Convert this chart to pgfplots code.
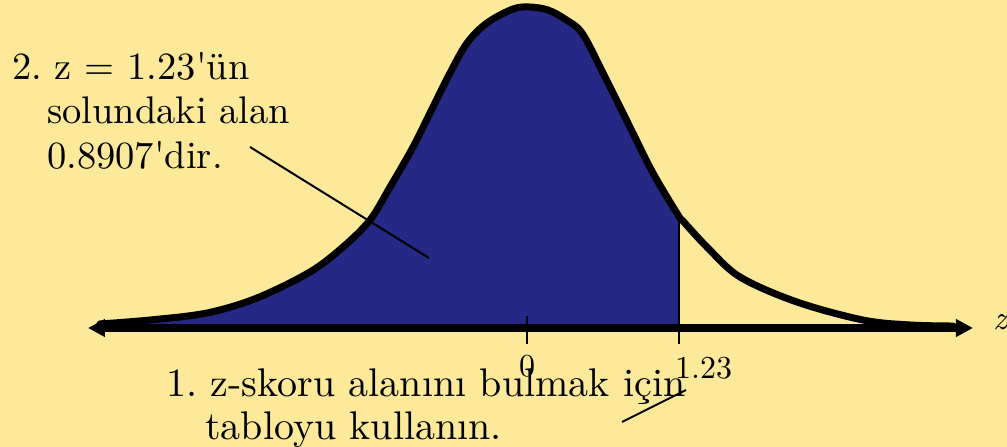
\documentclass[border=0pt]{standalone}
\usepackage{fontspec}
\setmainfont{lmroman10-regular}[Extension=.otf, ItalicFont=lmroman10-italic, BoldFont=lmroman10-bold]
\usepackage{pgfplots}
\usepackage{pgfplotstable}
\pgfplotsset{compat=1.18}
\usetikzlibrary{arrows.meta}

\definecolor{slidebg}{RGB}{252,233,154}
\definecolor{areablue}{RGB}{37,41,133}

% density curve, z against height
\pgfplotstableread{
z      f
-3.455 0.0051
-3.050 0.0101
-2.589 0.0190
-2.184 0.0380
-1.756 0.0709
-1.489 0.1025
-1.270 0.1367
-1.108 0.1785
-0.922 0.2291
-0.761 0.2797
-0.623 0.3228
-0.485 0.3608
-0.324 0.3861
-0.113 0.4038
0.024  0.4063
0.170  0.4025
0.307  0.3911
0.445  0.3734
0.615  0.3228
0.833  0.2544
1.019  0.1962
1.230  0.1410
1.262  0.1354
1.456  0.1025
1.723  0.0646
2.184  0.0329
2.718  0.0101
3.099  0.0038
3.447  0.0025
}\curvetable

\begin{document}
\begin{tikzpicture}[x=1pt,y=1pt]
\fill[slidebg, use as bounding box] (0,0) rectangle (1007,447);

\begin{axis}[
  hide axis, clip=false,
  x=123.6pt, y=790pt,
  xmin=-4.3, xmax=4.0, ymin=-0.1, ymax=0.45,
  anchor=origin, at={(527pt,119pt)},
]
% shaded area to the left of z = 1.23
\addplot[fill=areablue, draw=none, smooth, tension=0.55,
  restrict x to domain=-4:1.23] table {\curvetable} \closedcycle;
% boundary at z = 1.23
\addplot[black, line width=2pt] coordinates {(1.23,0) (1.23,0.141)};
% horizontal axis with arrows
\addplot[black, line width=8pt,
  arrows={Triangle[length=17pt,width=17pt]-Triangle[length=17pt,width=17pt]}]
  coordinates {(-3.552,0) (3.608,0)};
% ticks
\addplot[black, line width=2.5pt] coordinates {(0,0.0152) (0,-0.0203)};
\addplot[black, line width=2.5pt] coordinates {(1.23,0.0152) (1.23,-0.0203)};
% the curve
\addplot[black, line width=7pt, smooth, tension=0.55, line join=round, line cap=round]
  table {\curvetable};
\end{axis}

% tick labels and axis name
\node[anchor=base, inner sep=0, font=\fontsize{32}{36}\selectfont] at (527,70) {0};
\node[anchor=base west, inner sep=0, font=\fontsize{32}{36}\selectfont] at (675,68) {1.23};
\node[anchor=base west, inner sep=0, font=\fontsize{34}{40}\selectfont\itshape] at (993,117) {z};

% annotations
\begin{scope}[every node/.style={anchor=base west, inner sep=0, font=\fontsize{38.5}{44}\selectfont}]
\node at (12,367) {2.\ z = 1.23\textquotesingle ün};
\node at (47,323) {solundaki alan};
\node at (47,278) {0.8907\textquotesingle dir.};
\end{scope}
\draw[black, line width=2pt] (250,300) -- (429,189);

\begin{scope}[every node/.style={anchor=base west, inner sep=0, font=\fontsize{40}{44}\selectfont}]
\node at (166,50) {1.\ z-skoru alanını bulmak için};
\node at (205,7) {tabloyu kullanın.};
\end{scope}
\draw[black, line width=2pt] (622,25) -- (686,57);
\end{tikzpicture}
\end{document}
